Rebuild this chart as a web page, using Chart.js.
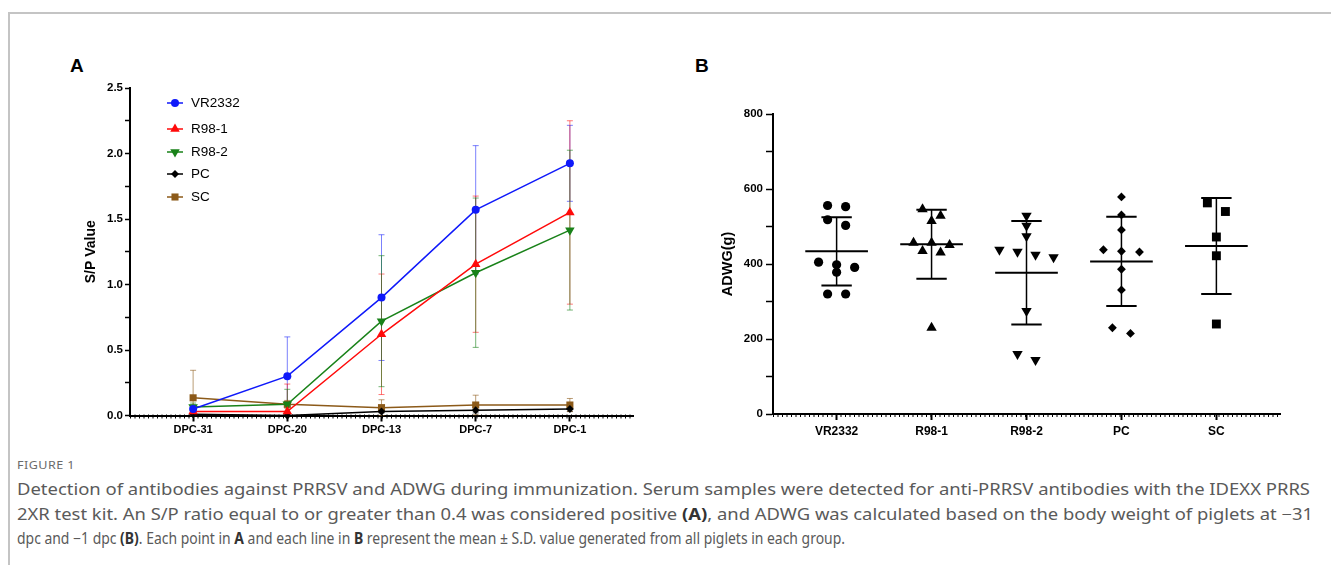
<!DOCTYPE html>
<html>
<head>
<meta charset="utf-8">
<script src="https://cdn.jsdelivr.net/npm/chart.js@4.4.0/dist/chart.umd.min.js"></script>
<style>
  body { margin: 0; width: 1331px; height: 565px; background: #fff; position: relative; overflow: hidden; font-family: "Liberation Sans", Arial, sans-serif; }
  .frame { position: absolute; left: 8px; top: 12px; right: -2px; bottom: -2px; border-top: 2px solid #c4c4c4; border-left: 2px solid #c4c4c4; }
  .panel { position: absolute; font-weight: bold; font-size: 19px; color: #000; line-height: 19px; }
  .wrap { position: absolute; top: 60px; width: 640px; height: 390px; }
  .cap { position: absolute; left: 17px; white-space: nowrap; color: #5a5a5a; font-family: "Noto Sans", sans-serif; font-size: 15.5px; line-height: 19px; transform-origin: 0 50%; }
  .cap b { color: #333; }
  .fig { font-size: 11px; line-height: 13px; letter-spacing: 0.4px; color: #6a6a6a; }
</style>
</head>
<body>
<div class="frame"></div>
<div class="panel" style="left:70px;top:56px">A</div>
<div class="panel" style="left:695px;top:56px">B</div>
<div class="wrap" style="left:20px"><canvas id="chartA" width="640" height="390"></canvas></div>
<div class="wrap" style="left:680px"><canvas id="chartB" width="640" height="390"></canvas></div>

<div class="cap fig" style="top:458px" data-w="58">FIGURE 1</div>
<div class="cap" style="top:480px" data-w="1293">Detection of antibodies against PRRSV and ADWG during immunization. Serum samples were detected for anti-PRRSV antibodies with the IDEXX PRRS</div>
<div class="cap" style="top:505px" data-w="1296">2XR test kit. An S/P ratio equal to or greater than 0.4 was considered positive <b>(A)</b>, and ADWG was calculated based on the body weight of piglets at −31</div>
<div class="cap" style="top:529px" data-w="828">dpc and −1 dpc <b>(B)</b>. Each point in <b>A</b> and each line in <b>B</b> represent the mean ± S.D. value generated from all piglets in each group.</div>

<script>
// panel A: S/P values (mean and SD) per time point
const timePoints = ['DPC-31', 'DPC-20', 'DPC-13', 'DPC-7', 'DPC-1'];
const vr2332Mean = [0.05, 0.30, 0.90, 1.57, 1.925];
const vr2332Sd   = [0.03, 0.30, 0.48, 0.49, 0.29];
const r981Mean   = [0.03, 0.03, 0.62, 1.155, 1.55];
const r981Sd     = [0.02, 0.21, 0.46, 0.52, 0.70];
const r982Mean   = [0.065, 0.085, 0.72, 1.09, 1.415];
const r982Sd     = [0.03, 0.115, 0.50, 0.57, 0.61];
const pcMean     = [0.01, 0.0, 0.03, 0.04, 0.05];
const pcSd       = [0.01, 0.01, 0.01, 0.02, 0.02];
const scMean     = [0.135, 0.085, 0.06, 0.08, 0.08];
const scSd       = [0.21, 0.03, 0.06, 0.075, 0.05];

// panel B: ADWG of each piglet, with group mean and SD
const groups = ['VR2332', 'R98-1', 'R98-2', 'PC', 'SC'];
const vr2332Adwg = [556, 553, 518, 503, 405, 398, 391, 378, 320, 320];
const r981Adwg   = [546, 529, 515, 457, 457, 451, 435, 431, 230];
const r982Adwg   = [529, 502, 474, 438, 433, 425, 418, 275, 160, 144];
const pcAdwg     = [579, 531, 491, 438, 434, 432, 386, 331, 230, 215];
const scAdwg     = [563, 540, 472, 422, 240];
const adwgMean   = [434, 453, 377, 407, 448];
const adwgSd     = [91, 92, 138, 119, 128];

const FONT = '"Liberation Sans", Arial, sans-serif';

// caption lines: squeeze to the widths of the original
document.querySelectorAll('.cap').forEach(el => {
    const w = el.getBoundingClientRect().width;
    el.style.transform = 'scaleX(' + (el.dataset.w / w) + ')';
});

// row of small ticks on the x axis (GraphPad style)
const minorTicks = {
    id: 'minorTicks',
    afterDraw(chart) {
        const {ctx, chartArea: a} = chart;
        ctx.save();
        ctx.strokeStyle = '#000';
        ctx.lineWidth = 4;
        ctx.setLineDash([1, 3.5]);
        ctx.beginPath();
        ctx.moveTo(a.left, a.bottom + 1);
        ctx.lineTo(a.right, a.bottom + 1);
        ctx.stroke();
        ctx.restore();
    }
};

// error bars for panel A
const errorBars = {
    id: 'errorBars',
    beforeDatasetsDraw(chart) {
        const {ctx, scales: {x, y}} = chart;
        chart.data.datasets.forEach(ds => {
            ctx.save();
            ctx.strokeStyle = ds.errorColor;
            ctx.lineWidth = 1;
            ds.data.forEach((p, i) => {
                const px = x.getPixelForValue(p.x);
                const top = y.getPixelForValue(p.y + ds.sd[i]);
                const bot = y.getPixelForValue(Math.max(p.y - ds.sd[i], 0));
                ctx.beginPath();
                ctx.moveTo(px, top); ctx.lineTo(px, bot);
                ctx.moveTo(px - 3, top); ctx.lineTo(px + 3, top);
                ctx.moveTo(px - 3, bot); ctx.lineTo(px + 3, bot);
                ctx.stroke();
            });
            ctx.restore();
        });
    }
};

// legend inside the plot of panel A
const legendA = {
    id: 'legendA',
    afterDatasetsDraw(chart) {
        const ctx = chart.ctx;
        const rowsY = [43, 69, 92, 114, 137];
        chart.data.datasets.forEach((ds, i) => {
            const y = rowsY[i];
            ctx.save();
            ctx.strokeStyle = ds.borderColor;
            ctx.lineWidth = 1.5;
            ctx.beginPath();
            ctx.moveTo(147, y); ctx.lineTo(163, y);
            ctx.stroke();
            ctx.fillStyle = ds.pointBackgroundColor;
            Chart.helpers.drawPoint(ctx, {pointStyle: ds.pointStyle, radius: ds.pointRadius, rotation: ds.pointRotation || 0, borderWidth: 0}, 155, y);
            ctx.fillStyle = '#000';
            ctx.font = '13.5px ' + FONT;
            ctx.textBaseline = 'middle';
            ctx.fillText(ds.label, 171, y + 0.5);
            ctx.restore();
        });
    }
};

function lineSet(label, mean, sd, color, errColor, style, radius, rotation) {
    return {
        label: label,
        data: mean.map((v, i) => ({x: i, y: v})),
        sd: sd,
        errorColor: errColor,
        borderColor: color,
        backgroundColor: color,
        pointBackgroundColor: color,
        pointBorderWidth: 0,
        borderWidth: 1.5,
        pointStyle: style,
        pointRadius: radius,
        pointRotation: rotation || 0,
        clip: false
    };
}

new Chart(document.getElementById('chartA'), {
    type: 'line',
    data: {
        datasets: [
            lineSet('VR2332', vr2332Mean, vr2332Sd, 'rgb(15,25,250)', 'rgba(15,25,250,0.55)', 'circle', 4),
            lineSet('R98-1', r981Mean, r981Sd, 'rgb(255,10,10)', 'rgba(255,10,10,0.55)', 'triangle', 5.5),
            lineSet('R98-2', r982Mean, r982Sd, 'rgb(25,130,25)', 'rgba(25,130,25,0.6)', 'triangle', 5.5, 180),
            lineSet('PC', pcMean, pcSd, 'rgb(0,0,0)', 'rgba(0,0,0,0.6)', 'rectRot', 4),
            lineSet('SC', scMean, scSd, 'rgb(140,90,25)', 'rgba(140,90,25,0.6)', 'rect', 5)
        ]
    },
    options: {
        responsive: false,
        animation: false,
        layout: {padding: {left: 59, top: 28, right: 27, bottom: 0}},
        plugins: {legend: {display: false}, tooltip: {enabled: false}},
        scales: {
            x: {
                type: 'linear', min: -0.67, max: 4.67,
                afterBuildTicks: s => { s.ticks = timePoints.map((t, i) => ({value: i})); },
                afterFit: s => { s.height = 34.5; },
                ticks: {callback: v => timePoints[v], color: '#000', padding: 2, maxRotation: 0, font: {family: FONT, size: 11, weight: 'bold'}},
                grid: {drawOnChartArea: false, tickLength: 6, tickWidth: 2, tickColor: '#000'},
                border: {color: '#000', width: 2}
            },
            y: {
                min: 0, max: 2.5,
                afterBuildTicks: s => { s.ticks = Array.from({length: 11}, (_, k) => ({value: k * 0.25})); },
                afterFit: s => { s.width = 51; },
                ticks: {callback: v => (Math.abs(v * 2 - Math.round(v * 2)) < 1e-6 ? v.toFixed(1) : ''), color: '#000', padding: 2, font: {family: FONT, size: 11.5, weight: 'bold'}},
                grid: {drawOnChartArea: false, tickLength: 5, tickWidth: 1.5, tickColor: '#000'},
                border: {color: '#000', width: 2},
                title: {display: true, text: 'S/P Value', color: '#000', font: {family: FONT, size: 14, weight: 'bold'}}
            }
        }
    },
    plugins: [errorBars, minorTicks, legendA]
});

// spread points of one group into rows, like a GraphPad scatter dot plot
function spread(values, center) {
    const sorted = values.slice().sort((a, b) => b - a);
    const rows = [];
    sorted.forEach(v => {
        const r = rows[rows.length - 1];
        const close = r && (r[0] - v < 21.5 || (r.length === 1 && r[0] - v < 25));
        if (close) r.push(v); else rows.push([v]);
    });
    const pts = [];
    rows.forEach(r => r.forEach((v, k) => pts.push({x: center + (k - (r.length - 1) / 2) * 0.19, y: v})));
    return pts;
}

const adwgSets = [vr2332Adwg, r981Adwg, r982Adwg, pcAdwg, scAdwg];
const adwgStyles = [['circle', 4.6, 0], ['triangle', 6, 0], ['triangle', 6, 180], ['rectRot', 4.4, 0], ['rect', 6.3, 0]];

// mean and SD lines for panel B
const meanSd = {
    id: 'meanSd',
    afterDatasetsDraw(chart) {
        const {ctx, scales: {x, y}} = chart;
        ctx.save();
        ctx.strokeStyle = '#000';
        groups.forEach((g, i) => {
            const m = y.getPixelForValue(adwgMean[i]);
            const t = y.getPixelForValue(adwgMean[i] + adwgSd[i]);
            const b = y.getPixelForValue(adwgMean[i] - adwgSd[i]);
            ctx.lineWidth = 2;
            ctx.beginPath();
            ctx.moveTo(x.getPixelForValue(i - 0.33), m); ctx.lineTo(x.getPixelForValue(i + 0.33), m);
            ctx.moveTo(x.getPixelForValue(i - 0.16), t); ctx.lineTo(x.getPixelForValue(i + 0.16), t);
            ctx.moveTo(x.getPixelForValue(i - 0.16), b); ctx.lineTo(x.getPixelForValue(i + 0.16), b);
            ctx.stroke();
            ctx.lineWidth = 1.5;
            ctx.beginPath();
            ctx.moveTo(x.getPixelForValue(i), t); ctx.lineTo(x.getPixelForValue(i), b);
            ctx.stroke();
        });
        ctx.restore();
    }
};

new Chart(document.getElementById('chartB'), {
    type: 'scatter',
    data: {
        datasets: adwgSets.map((vals, i) => ({
            label: groups[i],
            data: spread(vals, i),
            backgroundColor: '#000',
            borderWidth: 0,
            pointStyle: adwgStyles[i][0],
            pointRadius: adwgStyles[i][1],
            rotation: adwgStyles[i][2],
            clip: false
        }))
    },
    options: {
        responsive: false,
        animation: false,
        layout: {padding: {left: 35, top: 54, right: 40, bottom: 0}},
        plugins: {legend: {display: false}, tooltip: {enabled: false}},
        scales: {
            x: {
                type: 'linear', min: -0.67, max: 4.67,
                afterBuildTicks: s => { s.ticks = groups.map((g, i) => ({value: i})); },
                afterFit: s => { s.height = 36; },
                ticks: {callback: v => groups[v], color: '#000', padding: 4, maxRotation: 0, font: {family: FONT, size: 12, weight: 'bold'}},
                grid: {drawOnChartArea: false, tickLength: 6, tickWidth: 2, tickColor: '#000'},
                border: {color: '#000', width: 2}
            },
            y: {
                min: 0, max: 800,
                afterBuildTicks: s => { s.ticks = Array.from({length: 9}, (_, k) => ({value: k * 100})); },
                afterFit: s => { s.width = 58; },
                ticks: {callback: v => (v % 200 === 0 ? v : ''), color: '#000', padding: 3, font: {family: FONT, size: 11.5, weight: 'bold'}},
                grid: {drawOnChartArea: false, tickLength: 7, tickWidth: 1.5, tickColor: '#000'},
                border: {color: '#000', width: 2},
                title: {display: true, text: 'ADWG(g)', color: '#000', font: {family: FONT, size: 14.5, weight: 'bold'}}
            }
        }
    },
    plugins: [meanSd, minorTicks]
});
</script>
</body>
</html>
